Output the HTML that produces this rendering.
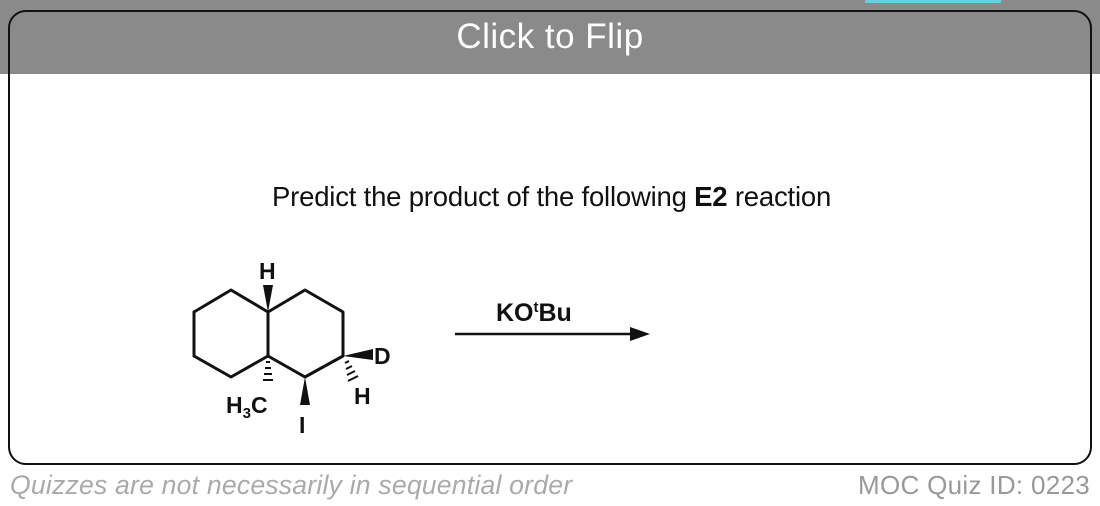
<!DOCTYPE html>
<html><head><style>
body{margin:0;width:1100px;height:506px;background:#fff;position:relative;overflow:hidden;font-family:"Liberation Sans",sans-serif}
.band{position:absolute;left:0;top:0;width:1100px;height:74px;background:#8a8a8a}
.tab{position:absolute;left:865px;top:0;width:136px;height:3px;background:#5fd3df}
.card{position:absolute;left:8px;top:10px;width:1080px;height:451px;border:2px solid #111;border-radius:18px}
.title{position:absolute;left:0;width:1100px;top:17px;text-align:center;color:#fff;font-size:35px;letter-spacing:0.5px}
.q{position:absolute;left:272px;width:570px;top:181px;font-size:27.5px;color:#111;white-space:nowrap;letter-spacing:-0.2px}
.f1{position:absolute;left:10px;top:470px;font-size:26.6px;font-style:italic;color:#aaa;white-space:nowrap;letter-spacing:0.2px}
.f2{position:absolute;right:10px;top:470px;font-size:26px;color:#999;white-space:nowrap;letter-spacing:0.3px}
</style></head><body>
<div class="band"></div><div class="tab"></div>
<div class="card"></div>
<div class="title">Click to Flip</div>
<div class="q">Predict the product of the following <b>E2</b> reaction</div>
<svg width="1100" height="506" style="position:absolute;left:0;top:0" font-family="Liberation Sans" font-weight="bold">
<g stroke="#111" stroke-width="3" fill="none" stroke-linejoin="round">
<polygon points="194,312 231,290 268,312 268,356 231,377 194,356"/>
<polyline points="268,312 305,290 343,312 343,356 305,377 268,356"/>
<line x1="455" y1="334" x2="630" y2="334" stroke-width="2.5"/>
</g>
<polygon points="630,327 650,334 630,341" fill="#111"/>
<polygon points="268,312 263,285 273,285" fill="#111"/>
<polygon points="305,377 300,405 310,405" fill="#111"/>
<polygon points="343,356 373,349 373,360" fill="#111"/>
<g stroke="#111" stroke-width="2">
<line x1="266" y1="362" x2="270" y2="362"/><line x1="265" y1="368" x2="271" y2="368"/><line x1="264" y1="374" x2="272" y2="374"/><line x1="263" y1="380" x2="273" y2="380"/>
<line x1="345" y1="363" x2="349" y2="361"/><line x1="346" y1="369" x2="352" y2="366"/><line x1="347" y1="375" x2="355" y2="371"/><line x1="348" y1="381" x2="358" y2="376"/>
</g>
<g fill="#111" font-size="23">
<text x="259" y="279">H</text>
<text x="374" y="364">D</text>
<text x="354" y="404">H</text>
<text x="299" y="433">I</text>
<text x="226" y="413">H<tspan font-size="15" dy="5">3</tspan><tspan dy="-5">C</tspan></text>
<text x="496" y="321" font-size="25">KO<tspan font-size="15" dy="-9">t</tspan><tspan dy="9">Bu</tspan></text>
</g>
</svg>
<div class="f1">Quizzes are not necessarily in sequential order</div>
<div class="f2">MOC Quiz ID: 0223</div>
</body></html>
